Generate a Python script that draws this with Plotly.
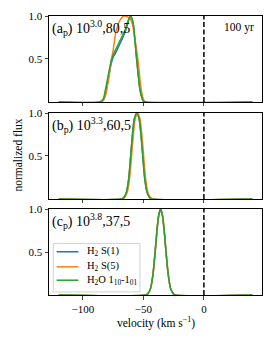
import plotly.graph_objects as go
from plotly.subplots import make_subplots

# Panel (a): 10^3.0, 80, 5
a_v_h2s1 = [-120, -86, -83, -81.5, -79, -77, -75, -73, -70, -67, -64, -62, -60.5, -58.5, -57.8, -55.5, -52.8, -51, -49.5, 40]
a_y_h2s1 = [0, 0, 0.03, 0.09, 0.26, 0.42, 0.52, 0.57, 0.66, 0.75, 0.86, 0.96, 1.0, 0.92, 0.84, 0.49, 0.14, 0.04, 0.0, 0]
a_v_h2s5 = [-120, -85, -83, -81, -79, -77, -75, -72.8, -69.4, -66, -63, -61, -59, -57.5, -54.5, -52, -50, -48.5, 40]
a_y_h2s5 = [0, 0, 0.02, 0.09, 0.25, 0.45, 0.6, 0.81, 0.95, 1.0, 0.99, 0.97, 0.9, 0.78, 0.49, 0.16, 0.03, 0, 0]
a_v_h2o = [-120, -86, -83, -81.9, -79.2, -76.4, -73.6, -69.4, -65.3, -62.5, -60.5, -58.5, -57.8, -55.5, -52.8, -51, -50, -48, 40]
a_y_h2o = [0, 0, 0.04, 0.105, 0.30, 0.49, 0.59, 0.71, 0.83, 0.95, 1.0, 0.92, 0.84, 0.49, 0.14, 0.04, 0.01, 0, 0]

# Panel (b): 10^3.3, 60, 5
b_v_h2s1 = [-120, -68, -66, -64, -62, -60.5, -59, -57.5, -55.5, -53.5, -52, -50.5, -49, -47, -45, -43, 40]
b_y_h2s1 = [0, 0, 0.02, 0.08, 0.25, 0.5, 0.75, 0.93, 1.0, 0.93, 0.75, 0.5, 0.25, 0.08, 0.02, 0, 0]
b_v_h2s5 = [-120, -67.3, -65.3, -63.3, -61.3, -59.8, -58.3, -56.8, -54.8, -52.8, -51.3, -49.8, -48.3, -46.3, -44.3, -42.3, 40]
b_y_h2s5 = [0, 0, 0.02, 0.08, 0.25, 0.5, 0.75, 0.93, 1.0, 0.93, 0.75, 0.5, 0.25, 0.08, 0.02, 0, 0]
b_v_h2o = [-120, -68, -66, -64, -62, -60.5, -59, -57.5, -55.5, -53.5, -52, -50.5, -49, -47, -45, -43, 40]
b_y_h2o = [0, 0, 0.02, 0.08, 0.25, 0.5, 0.75, 0.93, 1.0, 0.93, 0.75, 0.5, 0.25, 0.08, 0.02, 0, 0]

# Panel (c): 10^3.8, 37, 5
c_v = [-120, -48, -46, -44, -42, -40.3, -38.8, -37.3, -35.8, -34.3, -32.8, -31.3, -29.6, -27.6, -25.6, -24, 40]
c_y_h2s1 = [0, 0, 0.02, 0.08, 0.25, 0.5, 0.75, 0.93, 1.0, 0.93, 0.75, 0.5, 0.25, 0.08, 0.02, 0, 0]
c_y_h2s5 = [0, 0, 0.02, 0.08, 0.25, 0.5, 0.75, 0.93, 1.0, 0.93, 0.75, 0.5, 0.25, 0.08, 0.02, 0, 0]
c_y_h2o = [0, 0, 0.02, 0.08, 0.25, 0.5, 0.75, 0.93, 1.0, 0.93, 0.75, 0.5, 0.25, 0.08, 0.02, 0, 0]

panel_labels = ["(a<sub>p</sub>) 10<sup>3.0</sup>,80,5",
                "(b<sub>p</sub>) 10<sup>3.3</sup>,60,5",
                "(c<sub>p</sub>) 10<sup>3.8</sup>,37,5"]
series_names = ["H<sub>2</sub> S(1)", "H<sub>2</sub> S(5)", "H<sub>2</sub>O 1<sub>10</sub>-1<sub>01</sub>"]
colors = ["#1f77b4", "#ff7f0e", "#2ca02c"]
x_ticks = [-100, -50, 0]
y_ticks = [0.5, 1.0]
age_label = "100 yr"

FONT = "Liberation Serif"

fig = make_subplots(rows=3, cols=1, shared_xaxes=True)

panels = [
    [(a_v_h2s1, a_y_h2s1), (a_v_h2s5, a_y_h2s5), (a_v_h2o, a_y_h2o)],
    [(b_v_h2s1, b_y_h2s1), (b_v_h2s5, b_y_h2s5), (b_v_h2o, b_y_h2o)],
    [(c_v, c_y_h2s1), (c_v, c_y_h2s5), (c_v, c_y_h2o)],
]

for r, panel in enumerate(panels, start=1):
    for i, (vx, vy) in enumerate(panel):
        fig.add_trace(go.Scatter(x=vx, y=vy, mode="lines", name=series_names[i],
                                 line=dict(color=colors[i], width=1.5, shape="spline", smoothing=0.6),
                                 showlegend=False), row=r, col=1)
    fig.add_vline(x=0, line=dict(color="black", width=1.5, dash="5px,2.5px"), row=r, col=1)

domains = [[0.6918, 1.0], [0.3441, 0.6523], [0.0, 0.3082]]
for r in range(1, 4):
    fig.update_yaxes(range=[0, 1.0], domain=domains[r - 1], tickvals=y_ticks,
                     ticktext=["0.5", "1.0"], ticks="outside", ticklen=3.5,
                     showline=True, mirror=True, linecolor="black", linewidth=1,
                     showgrid=False, zeroline=False, automargin=False,
                     tickfont=dict(family=FONT, size=11, color="black"), row=r, col=1)
    fig.update_xaxes(range=[-128, 48], tickvals=x_ticks, ticktext=["\u2212100", "\u221250", "0"],
                     ticks="outside", ticklen=3.5, showticklabels=(r == 3),
                     showline=True, mirror=True, linecolor="black", linewidth=1,
                     showgrid=False, zeroline=False, automargin=False,
                     tickfont=dict(family=FONT, size=11, color="black"), row=r, col=1)
    yref = "y domain" if r == 1 else f"y{r} domain"
    xref = "x domain" if r == 1 else f"x{r} domain"
    fig.add_annotation(text=panel_labels[r - 1], xref=xref, yref=yref, x=0.005, y=1.0,
                       xanchor="left", yanchor="top", showarrow=False,
                       font=dict(family=FONT, size=14, color="black"))

fig.add_annotation(text=age_label, xref="x domain", yref="y domain", x=0.97, y=0.97,
                   xanchor="right", yanchor="top", showarrow=False,
                   font=dict(family=FONT, size=11.5, color="black"))

fig.add_annotation(text="velocity (km s<sup>\u22121</sup>)", xref="paper", yref="paper",
                   x=0.5, y=-0.1, xanchor="center", yanchor="middle", showarrow=False,
                   font=dict(family=FONT, size=11.5, color="black"))
fig.add_annotation(text="normalized flux", xref="paper", yref="paper", x=-0.15, y=0.5,
                   textangle=-90, showarrow=False, xanchor="center", yanchor="middle",
                   font=dict(family=FONT, size=11.5, color="black"))

# Legend (bottom panel, upper-left of the lower region)
fig.add_shape(type="rect", xref="paper", yref="paper", x0=0.020, x1=0.427, y0=0.011, y1=0.185,
              line=dict(color="#d0d0d0", width=1), fillcolor="rgba(255,255,255,0.85)", layer="above")
legend_rows = [0.155, 0.101, 0.053]
for i, name in enumerate(series_names):
    fig.add_shape(type="line", xref="paper", yref="paper", x0=0.036, x1=0.138,
                  y0=legend_rows[i], y1=legend_rows[i],
                  line=dict(color=colors[i], width=1.5), layer="above")
    fig.add_annotation(text=name, xref="paper", yref="paper", x=0.169, y=legend_rows[i],
                       xanchor="left", yanchor="middle", showarrow=False,
                       font=dict(family=FONT, size=10.5, color="black"))

fig.update_layout(
    width=274, height=343,
    margin=dict(l=49, r=12, t=16, b=48, autoexpand=False),
    plot_bgcolor="white", paper_bgcolor="white",
    font=dict(family=FONT, color="black"),
    showlegend=False,
)

fig.write_html("out.html", config={"displayModeBar": False},
               post_script="document.body.style.margin='0';")
